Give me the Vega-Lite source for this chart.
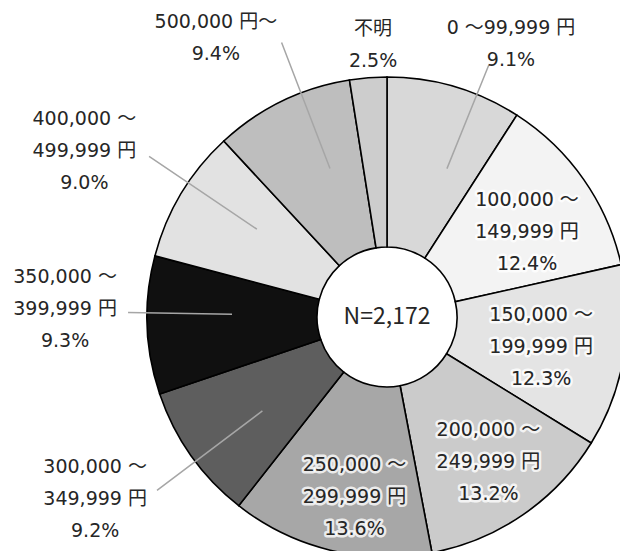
{
  "$schema": "https://vega.github.io/schema/vega-lite/v6.json",
  "width": 466,
  "height": 468,
  "autosize": {"type": "none"},
  "padding": {"left": 154, "top": 83, "right": 0, "bottom": 0},
  "background": "white",
  "config": {
    "view": {"stroke": null},
    "text": {"font": "DejaVu Sans, Noto Sans CJK JP", "fontSize": 19, "color": "#262626", "lineHeight": 32, "lineBreak": "\n", "align": "center", "baseline": "middle"}
  },
  "data": {
    "values": [
      {"order": 1, "cat": "0～99,999円", "label": "0 ～99,999 円\n9.1%", "pct": 9.1},
      {"order": 2, "cat": "100,000～149,999円", "label": "100,000 ～\n149,999 円\n12.4%", "pct": 12.4},
      {"order": 3, "cat": "150,000～199,999円", "label": "150,000 ～\n199,999 円\n12.3%", "pct": 12.3},
      {"order": 4, "cat": "200,000～249,999円", "label": "200,000 ～\n249,999 円\n13.2%", "pct": 13.2},
      {"order": 5, "cat": "250,000～299,999円", "label": "250,000 ～\n299,999 円\n13.6%", "pct": 13.6},
      {"order": 6, "cat": "300,000～349,999円", "label": "300,000 ～\n349,999 円\n9.2%", "pct": 9.2},
      {"order": 7, "cat": "350,000～399,999円", "label": "350,000 ～\n399,999 円\n9.3%", "pct": 9.3},
      {"order": 8, "cat": "400,000～499,999円", "label": "400,000 ～\n499,999 円\n9.0%", "pct": 9.0},
      {"order": 9, "cat": "500,000円～", "label": "500,000 円～\n9.4%", "pct": 9.4},
      {"order": 10, "cat": "不明", "label": "不明\n2.5%", "pct": 2.5}
    ]
  },
  "transform": [
    {"stack": "pct", "groupby": [], "sort": [{"field": "order", "order": "ascending"}], "as": ["s0", "s1"]}
  ],
  "layer": [
    {
      "mark": {"type": "arc", "radius": 240, "radius2": 70, "stroke": "#000000", "strokeWidth": 1.6},
      "encoding": {
        "theta": {"field": "s0", "type": "quantitative", "scale": {"domain": [0, 100], "range": [0, 6.283185307]}},
        "theta2": {"field": "s1"},
        "color": {
          "field": "cat", "type": "nominal", "legend": null,
          "scale": {
            "domain": ["0～99,999円", "100,000～149,999円", "150,000～199,999円", "200,000～249,999円", "250,000～299,999円", "300,000～349,999円", "350,000～399,999円", "400,000～499,999円", "500,000円～", "不明"],
            "range": ["#d8d8d8", "#f3f3f3", "#e4e4e4", "#cbcbcb", "#a7a7a7", "#5e5e5e", "#101010", "#e2e2e2", "#bebebe", "#cdcdcd"]
          }
        }
      }
    },
    {
      "transform": [{"filter": "datum.order == 1"}],
      "mark": {"type": "arc", "filled": false, "radius": 272, "radius2": 160, "thetaOffset": 0.384, "theta2Offset": 0.384, "stroke": "#a6a6a6", "strokeWidth": 1.5},
      "encoding": {"theta": {"field": "s0", "type": "quantitative", "scale": {"domain": [0, 100], "range": [0, 6.283185307]}}, "theta2": {"field": "s0"}}
    },
    {
      "transform": [{"filter": "datum.order == 6"}],
      "mark": {"type": "arc", "filled": false, "radius": 288, "radius2": 156, "thetaOffset": 0.259, "theta2Offset": 0.259, "stroke": "#a6a6a6", "strokeWidth": 1.5},
      "encoding": {"theta": {"field": "s0", "type": "quantitative", "scale": {"domain": [0, 100], "range": [0, 6.283185307]}}, "theta2": {"field": "s0"}}
    },
    {
      "transform": [{"filter": "datum.order == 7"}],
      "mark": {"type": "arc", "filled": false, "radius": 259, "radius2": 155, "thetaOffset": 0.344, "theta2Offset": 0.344, "stroke": "#a6a6a6", "strokeWidth": 1.5},
      "encoding": {"theta": {"field": "s0", "type": "quantitative", "scale": {"domain": [0, 100], "range": [0, 6.283185307]}}, "theta2": {"field": "s0"}}
    },
    {
      "transform": [{"filter": "datum.order == 8"}],
      "mark": {"type": "arc", "filled": false, "radius": 287, "radius2": 157, "thetaOffset": 0.336, "theta2Offset": 0.336, "stroke": "#a6a6a6", "strokeWidth": 1.5},
      "encoding": {"theta": {"field": "s0", "type": "quantitative", "scale": {"domain": [0, 100], "range": [0, 6.283185307]}}, "theta2": {"field": "s0"}}
    },
    {
      "transform": [{"filter": "datum.order == 9"}],
      "mark": {"type": "arc", "filled": false, "radius": 294, "radius2": 159, "thetaOffset": 0.381, "theta2Offset": 0.381, "stroke": "#a6a6a6", "strokeWidth": 1.5},
      "encoding": {"theta": {"field": "s0", "type": "quantitative", "scale": {"domain": [0, 100], "range": [0, 6.283185307]}}, "theta2": {"field": "s0"}}
    },
    {
      "transform": [{"filter": "datum.order == 2"}],
      "mark": {"type": "text", "radius": 164, "thetaOffset": 0.452, "dy": -32, "stroke": "#ffffff", "strokeWidth": 5, "strokeOpacity": 0.8, "strokeJoin": "round"},
      "encoding": {"theta": {"field": "s0", "type": "quantitative", "scale": {"domain": [0, 100], "range": [0, 6.283185307]}}, "text": {"field": "label"}}
    },
    {
      "transform": [{"filter": "datum.order == 3"}],
      "mark": {"type": "text", "radius": 157, "thetaOffset": 0.412, "dy": -32, "stroke": "#ffffff", "strokeWidth": 5, "strokeOpacity": 0.8, "strokeJoin": "round"},
      "encoding": {"theta": {"field": "s0", "type": "quantitative", "scale": {"domain": [0, 100], "range": [0, 6.283185307]}}, "text": {"field": "label"}}
    },
    {
      "transform": [{"filter": "datum.order == 4"}],
      "mark": {"type": "text", "radius": 177, "thetaOffset": 0.408, "dy": -32, "stroke": "#ffffff", "strokeWidth": 5, "strokeOpacity": 0.8, "strokeJoin": "round"},
      "encoding": {"theta": {"field": "s0", "type": "quantitative", "scale": {"domain": [0, 100], "range": [0, 6.283185307]}}, "text": {"field": "label"}}
    },
    {
      "transform": [{"filter": "datum.order == 5"}],
      "mark": {"type": "text", "radius": 183, "thetaOffset": 0.367, "dy": -32, "stroke": "#ffffff", "strokeWidth": 5, "strokeOpacity": 0.8, "strokeJoin": "round"},
      "encoding": {"theta": {"field": "s0", "type": "quantitative", "scale": {"domain": [0, 100], "range": [0, 6.283185307]}}, "text": {"field": "label"}}
    },
    {
      "transform": [{"filter": "datum.order == 1"}],
      "mark": {"type": "text", "radius": 300, "thetaOffset": 0.426, "dy": -16},
      "encoding": {"theta": {"field": "s0", "type": "quantitative", "scale": {"domain": [0, 100], "range": [0, 6.283185307]}}, "text": {"field": "label"}}
    },
    {
      "transform": [{"filter": "datum.order == 2"}],
      "mark": {"type": "text", "radius": 164, "thetaOffset": 0.452, "dy": -32},
      "encoding": {"theta": {"field": "s0", "type": "quantitative", "scale": {"domain": [0, 100], "range": [0, 6.283185307]}}, "text": {"field": "label"}}
    },
    {
      "transform": [{"filter": "datum.order == 3"}],
      "mark": {"type": "text", "radius": 157, "thetaOffset": 0.412, "dy": -32},
      "encoding": {"theta": {"field": "s0", "type": "quantitative", "scale": {"domain": [0, 100], "range": [0, 6.283185307]}}, "text": {"field": "label"}}
    },
    {
      "transform": [{"filter": "datum.order == 4"}],
      "mark": {"type": "text", "radius": 177, "thetaOffset": 0.408, "dy": -32},
      "encoding": {"theta": {"field": "s0", "type": "quantitative", "scale": {"domain": [0, 100], "range": [0, 6.283185307]}}, "text": {"field": "label"}}
    },
    {
      "transform": [{"filter": "datum.order == 5"}],
      "mark": {"type": "text", "radius": 183, "thetaOffset": 0.367, "dy": -32},
      "encoding": {"theta": {"field": "s0", "type": "quantitative", "scale": {"domain": [0, 100], "range": [0, 6.283185307]}}, "text": {"field": "label"}}
    },
    {
      "transform": [{"filter": "datum.order == 6"}],
      "mark": {"type": "text", "radius": 344, "thetaOffset": 0.347, "dy": -32},
      "encoding": {"theta": {"field": "s0", "type": "quantitative", "scale": {"domain": [0, 100], "range": [0, 6.283185307]}}, "text": {"field": "label"}}
    },
    {
      "transform": [{"filter": "datum.order == 7"}],
      "mark": {"type": "text", "radius": 322, "thetaOffset": 0.351, "dy": -32},
      "encoding": {"theta": {"field": "s0", "type": "quantitative", "scale": {"domain": [0, 100], "range": [0, 6.283185307]}}, "text": {"field": "label"}}
    },
    {
      "transform": [{"filter": "datum.order == 8"}],
      "mark": {"type": "text", "radius": 345, "thetaOffset": 0.243, "dy": -32},
      "encoding": {"theta": {"field": "s0", "type": "quantitative", "scale": {"domain": [0, 100], "range": [0, 6.283185307]}}, "text": {"field": "label"}}
    },
    {
      "transform": [{"filter": "datum.order == 9"}],
      "mark": {"type": "text", "radius": 327, "thetaOffset": 0.197, "dy": -16},
      "encoding": {"theta": {"field": "s0", "type": "quantitative", "scale": {"domain": [0, 100], "range": [0, 6.283185307]}}, "text": {"field": "label"}}
    },
    {
      "transform": [{"filter": "datum.order == 10"}],
      "mark": {"type": "text", "radius": 272, "thetaOffset": 0.106, "dy": -16},
      "encoding": {"theta": {"field": "s0", "type": "quantitative", "scale": {"domain": [0, 100], "range": [0, 6.283185307]}}, "text": {"field": "label"}}
    },
    {
      "transform": [{"filter": "datum.order == 10"}],
      "mark": {"type": "text", "text": "N=2,172", "font": "Noto Sans CJK JP", "fontSize": 23},
      "encoding": {}
    }
  ]
}
